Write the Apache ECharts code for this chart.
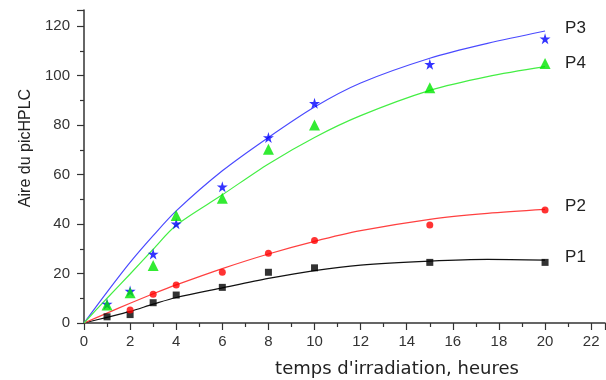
<!DOCTYPE html>
<html><head><meta charset="utf-8">
<script src="https://cdn.jsdelivr.net/npm/echarts@6/dist/echarts.min.js"></script>
<style>html,body{margin:0;padding:0;background:#fff}#c{width:606px;height:380px}</style>
</head><body><div id="c"></div>
<script>
// measured points
const hours = [1, 2, 3, 4, 6, 8, 10, 15, 20];
const p1 = [2.5, 3.4, 8.2, 11.3, 14.4, 20.5, 22.3, 24.5, 24.5];
const p2 = [null, 5.3, 11.6, 15.4, 20.5, 28.2, 33.3, 39.6, 45.7];
const p3 = [7.7, 12.9, 27.9, 40.1, 55.1, 75.0, 88.8, 104.6, 114.9];
const p4 = [7.3, 12.2, 23.2, 43.4, 50.4, 70.2, 80.0, 95.1, 104.9];
// fitted curves
const fitHours = [0, 1, 2, 3, 4, 6, 8, 10, 12, 15, 17.5, 20];
const fit1 = [0, 2.3, 4.7, 7.6, 10.3, 14.2, 18.0, 21.2, 23.4, 25.0, 25.7, 25.4];
const fit2 = [0, 4.0, 8.0, 11.8, 15.4, 22.0, 27.9, 33.0, 37.3, 41.9, 44.3, 45.9];
const fit3 = [0, 12.5, 24.5, 35.3, 45.3, 61.5, 75.0, 87.3, 97.0, 107.0, 113.0, 118.0];
const fit4 = [0, 10.0, 19.8, 29.8, 39.5, 51.8, 64.3, 75.0, 83.8, 94.0, 99.6, 103.6];
const names = ['P1', 'P2', 'P3', 'P4'];
const xTicks = [0, 2, 4, 6, 8, 10, 12, 14, 16, 18, 20, 22];
const yTicks = [0, 20, 40, 60, 80, 100, 120];

const pts = (xs, ys) => xs.map((x, i) => [x, ys[i]]).filter(d => d[1] !== null);
const FONT = 'Liberation Sans';
const colors = {
  line: ['#111111', '#ff4040', '#4a4aff', '#44ee44'],
  mark: ['#000000', '#ff0000', '#0000ff', '#00e600']
};
const symbols = ['rect', 'circle', 'path://M50,0 L61,35 L98,35 L68,57 L79,91 L50,70 L21,91 L32,57 L2,35 L39,35 Z', 'triangle'];
const sizes = [[7, 7], 7, 11, 11];
const fits = [fit1, fit2, fit3, fit4];
const meas = [p1, p2, p3, p4];

const series = [];
for (let i = 0; i < 4; i++) {
  series.push({
    type: 'line', name: names[i] + ' fit', data: pts(fitHours, fits[i]), smooth: 0.3,
    showSymbol: false, symbol: 'none', silent: true,
    lineStyle: { color: colors.line[i], width: 1.2 },
    endLabel: { show: true, formatter: names[i], distance: 20, offset: [0, -3],
      color: '#222', fontFamily: FONT, fontSize: 17 }
  });
  series.push({
    type: 'scatter', name: names[i], data: pts(hours, meas[i]),
    symbol: symbols[i], symbolSize: sizes[i],
    itemStyle: { color: colors.mark[i] }, z: 3
  });
}

const chart = echarts.init(document.getElementById('c'), null, { renderer: 'canvas' });
chart.setOption({
  animation: false,
  grid: { left: 84, right: 1, top: 10, bottom: 57, containLabel: false, outerBoundsMode: 'none' },
  xAxis: {
    type: 'value', min: 0, max: 22.6, interval: 2,
    name: "temps d'irradiation, heures", nameLocation: 'middle', nameGap: 37,
    nameTextStyle: { fontFamily: 'DejaVu Sans', fontSize: 18, color: '#222', padding: [0, 0, 0, 105] },
    axisLine: { show: true, lineStyle: { color: '#333', width: 1.5 } },
    axisTick: { show: true, inside: false, length: 7, lineStyle: { color: '#333', width: 1.2 } },
    minorTick: { show: true, splitNumber: 2, length: 4, lineStyle: { color: '#333', width: 1.2 } },
    axisLabel: { fontFamily: FONT, fontSize: 15, color: '#333', margin: 11, showMaxLabel: false,
      formatter: v => xTicks.includes(v) ? String(v) : '' },
    splitLine: { show: false }
  },
  yAxis: {
    type: 'value', min: 0, max: 126.5, interval: 20,
    name: 'Aire du picHPLC', nameLocation: 'middle', nameGap: 50,
    nameTextStyle: { fontFamily: FONT, fontSize: 16, color: '#222', padding: [0, 0, 0, 37] },
    axisLine: { show: true, lineStyle: { color: '#333', width: 1.5 } },
    axisTick: { show: true, inside: false, length: 7, lineStyle: { color: '#333', width: 1.2 } },
    minorTick: { show: true, splitNumber: 2, length: 4, lineStyle: { color: '#333', width: 1.2 } },
    axisLabel: { fontFamily: FONT, fontSize: 15, color: '#333', margin: 14, showMaxLabel: false,
      formatter: v => yTicks.includes(v) ? String(v) : '' },
    splitLine: { show: false }
  },
  series: series
});
</script></body></html>
